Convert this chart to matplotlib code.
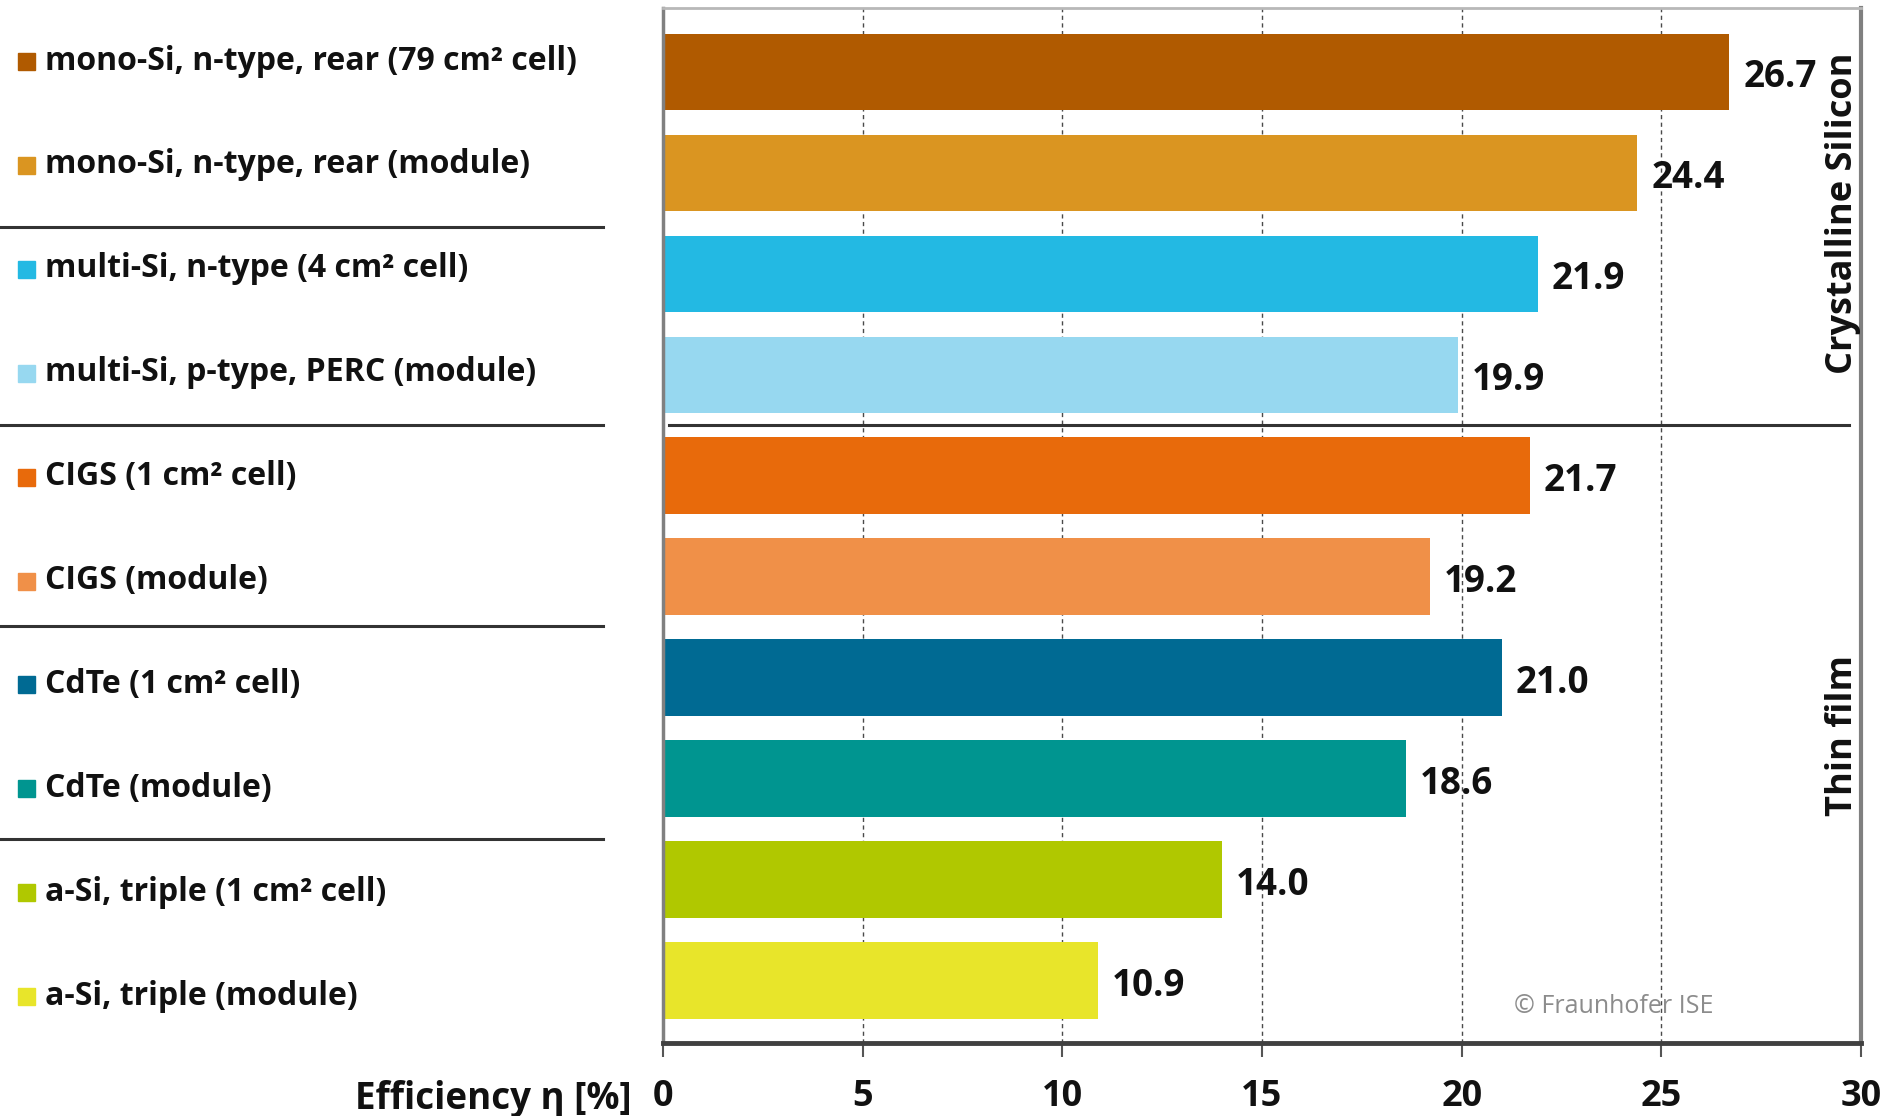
import matplotlib
matplotlib.use('Agg')
import matplotlib.pyplot as plt
from matplotlib.patches import Rectangle
from matplotlib.lines import Line2D
import matplotlib.transforms as mtransforms

plt.rcParams['font.family'] = ['Open Sans', 'DejaVu Sans']

# record efficiencies per technology (top to bottom)
technologies = [
    'mono-Si, n-type, rear (79 cm² cell)',
    'mono-Si, n-type, rear (module)',
    'multi-Si, n-type (4 cm² cell)',
    'multi-Si, p-type, PERC (module)',
    'CIGS (1 cm² cell)',
    'CIGS (module)',
    'CdTe (1 cm² cell)',
    'CdTe (module)',
    'a-Si, triple (1 cm² cell)',
    'a-Si, triple (module)',
]
efficiency = [26.7, 24.4, 21.9, 19.9, 21.7, 19.2, 21.0, 18.6, 14.0, 10.9]
bar_colors = ['#b05a00', '#da9521', '#23b9e3', '#97d8f0', '#e86a0b',
              '#f09048', '#006a93', '#009590', '#b0c800', '#e8e52a']
groups = ['Crystalline Silicon', 'Thin film']
x_ticks = [0, 5, 10, 15, 20, 25, 30]

W, H = 1889, 1116
fig = plt.figure(figsize=(W / 100, H / 100), dpi=100)
fig.patch.set_facecolor('white')

# plot area in pixel units
left, right, top, bottom = 663, 1861, 8, 1043
ax = fig.add_axes([left / W, 1 - bottom / H, (right - left) / W, (bottom - top) / H])

rows = list(range(len(efficiency)))
ax.barh(rows, efficiency, height=0.76, color=bar_colors, zorder=2)
ax.set_xlim(0, 30)
ax.set_ylim(9.616, -0.633)
ax.set_yticks([])
ax.set_xticks(x_ticks)
ax.set_axisbelow(True)
ax.grid(axis='x', color='#4a4a4a', linestyle=(0, (3, 2.5)), linewidth=1.0)
ax.tick_params(axis='x', direction='out', length=10, width=1.5, color='#555555',
               pad=16, labelsize=26)
for lab in ax.get_xticklabels():
    lab.set_fontweight('bold')
    lab.set_color('#111111')

ax.spines['left'].set_color('#808080')
ax.spines['left'].set_linewidth(2.5)
ax.spines['right'].set_color('#808080')
ax.spines['right'].set_linewidth(3)
ax.spines['top'].set_color('#b8b8b8')
ax.spines['top'].set_linewidth(2)
ax.spines['bottom'].set_color('#404040')
ax.spines['bottom'].set_linewidth(3.5)

# value labels at the end of each bar
for i, v in enumerate(efficiency):
    ax.annotate(f'{v:.1f}', (v, i), xytext=(10, -3.5), textcoords='offset points',
                va='center', ha='left', fontsize=26.5, fontweight='bold',
                color='#111111')

# divider between crystalline silicon and thin film
ax.plot([0.15, 29.7], [3.5, 3.5], color='#333333', lw=2.2, zorder=3)

# group names along the right edge
trans = mtransforms.blended_transform_factory(ax.transAxes, ax.transData)
ax.text(0.985, 1.40, groups[0], transform=trans, rotation=90, ha='center',
        va='center', fontsize=26, fontweight='bold', color='#111111')
ax.text(0.985, 6.57, groups[1], transform=trans, rotation=90, ha='center',
        va='center', fontsize=26, fontweight='bold', color='#111111')

ax.text(21.3, 9.25, '© Fraunhofer ISE', ha='left', va='center', fontsize=18,
        color='#8c8c8c')

# legend column on the left
for i, (name, c) in enumerate(zip(technologies, bar_colors)):
    yc = 60 + 103.9 * i
    fig.patches.append(Rectangle((18 / W, 1 - (yc + 10) / H), 17 / W, 17 / H,
                                 transform=fig.transFigure, color=c))
    fig.text(45 / W, 1 - (yc + 1) / H, name, ha='left', va='center', fontsize=23,
             fontweight='bold', color='#111111')

for yl in [227, 425, 626, 839]:
    fig.lines.append(Line2D([0, 603 / W], [1 - yl / H, 1 - yl / H],
                            transform=fig.transFigure, color='#333333', lw=2.2))

fig.text(632 / W, 1 - 1099 / H, 'Efficiency η [%]', ha='right', va='center',
         fontsize=26.5, fontweight='bold', color='#111111')

fig.savefig('out.png', dpi=100)
